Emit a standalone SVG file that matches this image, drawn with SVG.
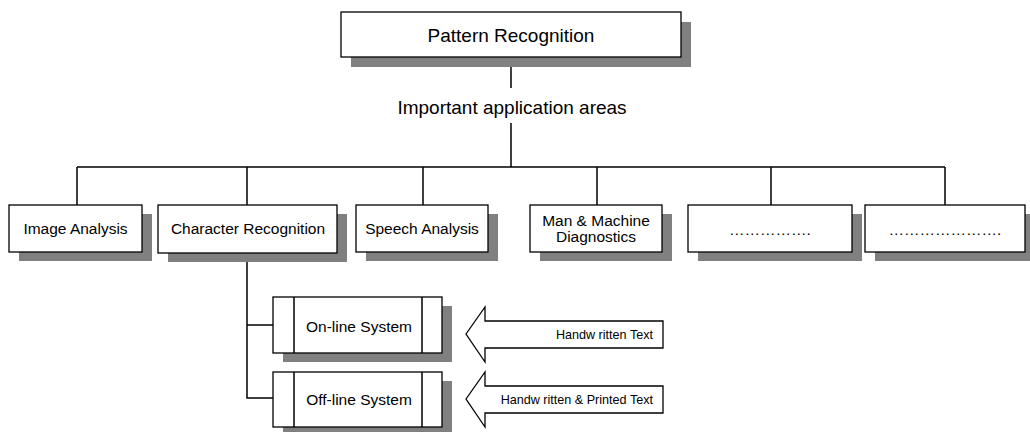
<svg xmlns="http://www.w3.org/2000/svg" width="1030" height="432" viewBox="0 0 1030 432">
<style>
.box{fill:#fff;stroke:#000;stroke-width:1.3}
.sh{fill:#808080;stroke:none}
.ln{fill:none;stroke:#000;stroke-width:1.5}
.t{font-family:"Liberation Sans",Arial,sans-serif;fill:#000;text-anchor:middle}
.big{font-size:19px}
.mid{font-size:15.5px}
.sm{font-size:12.6px}
</style>
<rect width="1030" height="432" fill="#fff"/>
<g id="connectors">
<line class="ln" x1="511" y1="67" x2="511" y2="88"/>
<line class="ln" x1="511" y1="123" x2="511" y2="167"/>
<line class="ln" x1="77" y1="167" x2="945" y2="167"/>
<line class="ln" x1="77" y1="167" x2="77" y2="205"/>
<line class="ln" x1="247" y1="167" x2="247" y2="205"/>
<line class="ln" x1="423" y1="167" x2="423" y2="205"/>
<line class="ln" x1="597" y1="167" x2="597" y2="205"/>
<line class="ln" x1="771" y1="167" x2="771" y2="205"/>
<line class="ln" x1="945" y1="167" x2="945" y2="205"/>
<polyline class="ln" points="247,253 247,398 273,398"/>
<line class="ln" x1="247" y1="325" x2="273" y2="325"/>
</g>
<g id="pattern-recognition">
<rect class="sh" x="351" y="22" width="340" height="45"/>
<rect class="box" x="341" y="12" width="340" height="45"/>
<text class="t big" x="511" y="42">Pattern Recognition</text>
</g>
<text id="areas-label" class="t big" x="512" y="114">Important application areas</text>
<g id="image-analysis">
<rect class="sh" x="19" y="214" width="133" height="47"/>
<rect class="box" x="9" y="205" width="133" height="47"/>
<text class="t mid" x="75.5" y="234">Image Analysis</text>
</g>
<g id="character-recognition">
<rect class="sh" x="168" y="214" width="179" height="48"/>
<rect class="box" x="158" y="205" width="179" height="48"/>
<text class="t mid" x="248" y="234">Character Recognition</text>
</g>
<g id="speech-analysis">
<rect class="sh" x="366" y="214" width="132" height="47"/>
<rect class="box" x="356" y="205" width="132" height="47"/>
<text class="t mid" x="422" y="234">Speech Analysis</text>
</g>
<g id="man-machine">
<rect class="sh" x="540" y="214" width="132" height="47"/>
<rect class="box" x="530" y="205" width="132" height="47"/>
<text class="t mid" x="596" y="226">Man &amp; Machine</text>
<text class="t mid" x="596" y="242">Diagnostics</text>
</g>
<g id="dots-1">
<rect class="sh" x="698" y="214" width="164" height="47"/>
<rect class="box" x="688" y="205" width="164" height="47"/>
<text class="t mid" x="770" y="235">…………….</text>
</g>
<g id="dots-2">
<rect class="sh" x="875" y="214" width="160" height="47"/>
<rect class="box" x="865" y="205" width="160" height="47"/>
<text class="t mid" x="945" y="235">………………….</text>
</g>
<g id="online-system">
<rect class="sh" x="283" y="306" width="169" height="56"/>
<rect class="box" x="273" y="297" width="169" height="56"/>
<line class="ln" x1="294" y1="297" x2="294" y2="353" stroke-width="1.3"/>
<line class="ln" x1="422" y1="297" x2="422" y2="353" stroke-width="1.3"/>
<text class="t mid" x="359" y="332">On-line System</text>
</g>
<g id="offline-system">
<rect class="sh" x="283" y="381" width="169" height="55"/>
<rect class="box" x="273" y="372" width="169" height="55"/>
<line class="ln" x1="294" y1="372" x2="294" y2="427" stroke-width="1.3"/>
<line class="ln" x1="422" y1="372" x2="422" y2="427" stroke-width="1.3"/>
<text class="t mid" x="359" y="405">Off-line System</text>
</g>
<g id="handwritten-arrow">
<polygon class="box" points="466,334 485,307 485,321 663,321 663,348 485,348 485,362"/>
<text class="t sm" x="653" y="339" style="text-anchor:end">Handw ritten Text</text>
</g>
<g id="printed-arrow">
<polygon class="box" points="466,399 485,372 485,386 663,386 663,413 485,413 485,427"/>
<text class="t sm" x="653" y="404" style="text-anchor:end">Handw ritten &amp; Printed Text</text>
</g>
</svg>
